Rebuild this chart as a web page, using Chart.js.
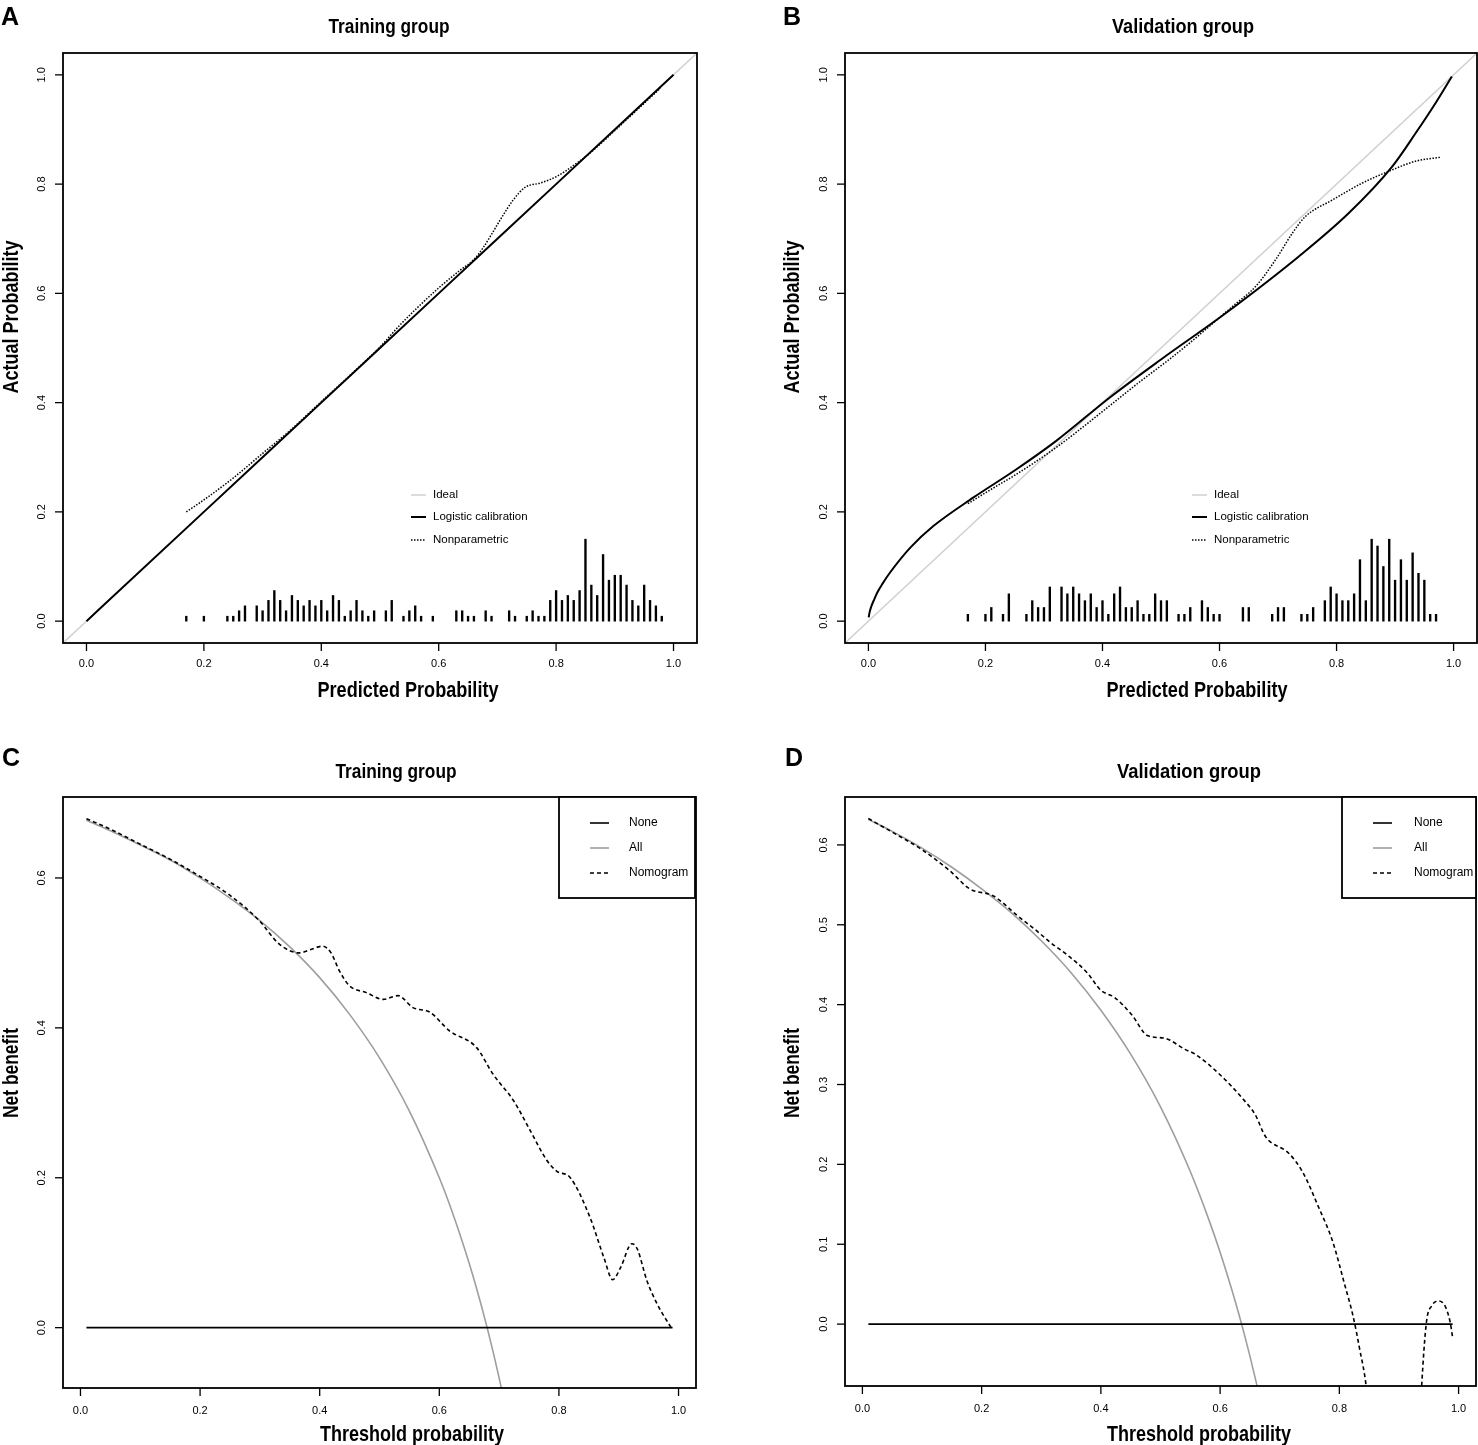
<!DOCTYPE html>
<html><head><meta charset="utf-8">
<script src="https://cdn.jsdelivr.net/npm/chart.js@4.4.1/dist/chart.umd.min.js"></script>
<style>
html,body{margin:0;padding:0;background:#fff;}
body{width:1478px;height:1445px;position:relative;overflow:hidden;}
canvas{position:absolute;display:block;}
</style></head><body>
<canvas id="cA" width="739" height="722" style="left:0;top:0"></canvas>
<canvas id="cB" width="739" height="722" style="left:739px;top:0"></canvas>
<canvas id="cC" width="739" height="723" style="left:0;top:722px"></canvas>
<canvas id="cD" width="739" height="723" style="left:739px;top:722px"></canvas>
<script>
// ---------------- DATA ----------------
const calTicks = [0, 0.2, 0.4, 0.6, 0.8, 1.0];
const calTickLabels = ['0.0', '0.2', '0.4', '0.6', '0.8', '1.0'];
const idealLine = [-0.04, 1.04];

// Panel A - training calibration
const trainLogisticX = [0, 0.2, 0.4, 0.6, 0.8, 1.0];
const trainLogisticY = [0, 0.2, 0.4, 0.6, 0.8, 1.0];
const trainNonparX = [0.17,0.2,0.25,0.3,0.35,0.4,0.45,0.5,0.534,0.56,0.6,0.636,0.66,0.676,0.69,0.705,0.727,0.747,0.773,0.801,0.836,0.858,0.904,0.944,0.978];
const trainNonparY = [0.2,0.222,0.262,0.307,0.352,0.402,0.451,0.502,0.542,0.57,0.61,0.642,0.662,0.684,0.708,0.735,0.771,0.794,0.802,0.814,0.839,0.857,0.902,0.942,0.976];
const trainSpikeX = [0.17,0.20,0.24,0.25,0.26,0.27,0.29,0.30,0.31,0.32,0.33,0.34,0.35,0.36,0.37,0.38,0.39,0.40,0.41,0.42,0.43,0.44,0.45,0.46,0.47,0.48,0.49,0.51,0.52,0.54,0.55,0.56,0.57,0.59,0.63,0.64,0.65,0.66,0.68,0.69,0.72,0.73,0.75,0.76,0.77,0.78,0.79,0.80,0.81,0.82,0.83,0.84,0.85,0.86,0.87,0.88,0.89,0.90,0.91,0.92,0.93,0.94,0.95,0.96,0.97,0.98];
const trainSpikeH = [0.009,0.009,0.009,0.009,0.019,0.028,0.028,0.019,0.038,0.056,0.038,0.019,0.047,0.038,0.028,0.038,0.028,0.038,0.019,0.047,0.038,0.009,0.019,0.038,0.019,0.009,0.019,0.019,0.038,0.009,0.019,0.028,0.009,0.009,0.019,0.019,0.009,0.009,0.019,0.009,0.019,0.009,0.009,0.019,0.009,0.009,0.038,0.056,0.038,0.047,0.038,0.056,0.15,0.066,0.047,0.122,0.075,0.084,0.084,0.066,0.038,0.028,0.066,0.038,0.028,0.009];

// Panel B - validation calibration
const valLogisticX = [0.0005,0.002,0.005,0.01,0.015,0.025,0.037,0.072,0.111,0.179,0.253,0.321,0.412,0.5,0.611,0.736,0.821,0.895,0.935,0.969,0.997];
const valLogisticY = [0.007,0.016,0.027,0.040,0.052,0.070,0.089,0.135,0.174,0.226,0.278,0.330,0.409,0.479,0.564,0.668,0.747,0.832,0.893,0.948,0.997];
const valNonparX = [0.17,0.2,0.253,0.321,0.412,0.46,0.514,0.55,0.583,0.622,0.662,0.696,0.725,0.747,0.793,0.844,0.895,0.935,0.977];
const valNonparY = [0.215,0.235,0.269,0.318,0.394,0.435,0.479,0.51,0.54,0.576,0.613,0.662,0.711,0.741,0.771,0.802,0.826,0.842,0.849];
const valSpikeX = [0.17,0.20,0.21,0.23,0.24,0.27,0.28,0.29,0.30,0.31,0.33,0.34,0.35,0.36,0.37,0.38,0.39,0.40,0.41,0.42,0.43,0.44,0.45,0.46,0.47,0.48,0.49,0.50,0.51,0.53,0.54,0.55,0.57,0.58,0.59,0.60,0.64,0.65,0.69,0.70,0.71,0.74,0.75,0.76,0.78,0.79,0.80,0.81,0.82,0.83,0.84,0.85,0.86,0.87,0.88,0.89,0.90,0.91,0.92,0.93,0.94,0.95,0.96,0.97];
const valSpikeH = [0.0125,0.0125,0.025,0.0125,0.05,0.0125,0.0375,0.025,0.025,0.0625,0.0625,0.05,0.0625,0.05,0.0375,0.05,0.025,0.0375,0.0125,0.05,0.0625,0.025,0.025,0.0375,0.0125,0.0125,0.05,0.0375,0.0375,0.0125,0.0125,0.025,0.0375,0.025,0.0125,0.0125,0.025,0.025,0.0125,0.025,0.025,0.0125,0.0125,0.025,0.0375,0.0625,0.05,0.0375,0.0375,0.05,0.1125,0.0375,0.15,0.1375,0.1,0.15,0.075,0.1125,0.075,0.125,0.0875,0.075,0.0125,0.0125];

// Panel C - training decision curve
const dcaXTicks = [0, 0.2, 0.4, 0.6, 0.8, 1.0];
const dcaXTickLabels = ['0.0', '0.2', '0.4', '0.6', '0.8', '1.0'];
const trainNBTicks = [0, 0.2, 0.4, 0.6];
const trainNBTickLabels = ['0.0', '0.2', '0.4', '0.6'];
const noneX = [0.01, 0.99];
const noneY = [0, 0];
const trainAllX = [0.01,0.05,0.1,0.15,0.2,0.25,0.3,0.35,0.4,0.45,0.5,0.55,0.6,0.62,0.64,0.66,0.68,0.7,0.72];
const trainAllY = [0.677,0.663,0.644,0.624,0.600,0.573,0.543,0.508,0.467,0.418,0.360,0.289,0.200,0.158,0.111,0.059,0.000,-0.067,-0.143];
const trainNomoX = [0.01,0.05,0.1,0.15,0.198,0.248,0.299,0.332,0.366,0.383,0.405,0.419,0.433,0.45,0.478,0.506,0.531,0.556,0.584,0.617,0.662,0.69,0.724,0.752,0.78,0.796,0.819,0.852,0.875,0.89,0.903,0.922,0.931,0.947,0.964,0.989];
const trainNomoY = [0.679,0.665,0.645,0.625,0.603,0.578,0.543,0.512,0.500,0.504,0.509,0.500,0.476,0.456,0.447,0.438,0.443,0.427,0.421,0.396,0.374,0.338,0.303,0.263,0.223,0.209,0.200,0.147,0.094,0.064,0.080,0.112,0.105,0.063,0.032,-0.002];

// Panel D - validation decision curve
const valNBTicks = [0, 0.1, 0.2, 0.3, 0.4, 0.5, 0.6];
const valNBTickLabels = ['0.0', '0.1', '0.2', '0.3', '0.4', '0.5', '0.6'];
const valAllX = [0.01,0.05,0.1,0.15,0.2,0.25,0.3,0.35,0.4,0.45,0.5,0.55,0.58,0.6,0.62,0.64,0.66,0.68];
const valAllY = [0.632,0.617,0.596,0.572,0.545,0.515,0.480,0.440,0.393,0.338,0.272,0.191,0.133,0.090,0.042,-0.011,-0.071,-0.138];
const valNomoX = [0.01,0.05,0.1,0.146,0.18,0.22,0.259,0.293,0.315,0.344,0.377,0.4,0.423,0.451,0.479,0.507,0.541,0.558,0.603,0.637,0.659,0.676,0.715,0.738,0.766,0.789,0.808,0.823,0.834,0.845,0.86,0.9,0.93,0.938,0.946,0.955,0.966,0.977,0.986,0.99];
const valNomoY = [0.633,0.616,0.594,0.568,0.545,0.536,0.512,0.492,0.478,0.462,0.440,0.418,0.409,0.388,0.361,0.358,0.344,0.338,0.310,0.283,0.262,0.235,0.214,0.191,0.145,0.103,0.052,0.010,-0.031,-0.078,-0.2,-0.35,-0.2,-0.078,0.002,0.023,0.029,0.023,0.002,-0.017];

// ---------------- RENDERING ----------------
const SANS = '"Liberation Sans", Arial, Helvetica, sans-serif';
const NARROW = '"Liberation Sans Narrow", "Arial Narrow", "Liberation Sans", Arial, sans-serif';
const IDEAL_GRAY = '#d0d0d0';
const ALL_GRAY = '#9e9e9e';

function pts(xs, ys) { return xs.map((x, i) => ({x: x, y: ys[i]})); }

function fitText(ctx, text, x, y, font, targetW, rotate) {
  ctx.save();
  ctx.font = font;
  const w = ctx.measureText(text).width;
  const s = targetW ? targetW / w : 1;
  ctx.translate(x, y);
  if (rotate) ctx.rotate(-Math.PI / 2);
  ctx.scale(s, 1);
  ctx.textAlign = 'center';
  ctx.textBaseline = rotate ? 'middle' : 'alphabetic';
  ctx.fillStyle = '#000';
  ctx.fillText(text, 0, 0);
  ctx.restore();
}

function segment(ctx, x1, y1, x2, y2, color, width, dash) {
  ctx.save();
  ctx.beginPath();
  ctx.strokeStyle = color; ctx.lineWidth = width; ctx.setLineDash(dash || []);
  ctx.moveTo(x1, y1); ctx.lineTo(x2, y2); ctx.stroke();
  ctx.restore();
}

function framePlugin(L) {
  return {
    id: 'rframe',
    afterDatasetsDraw(chart) {
      const ctx = chart.ctx, a = chart.chartArea, xs = chart.scales.x, ys = chart.scales.y;
      ctx.save();
      ctx.lineWidth = 1.8; ctx.strokeStyle = '#000'; ctx.setLineDash([]);
      ctx.strokeRect(a.left, a.top, a.right - a.left, a.bottom - a.top);
      ctx.font = '11px ' + SANS; ctx.fillStyle = '#000';
      L.xTicks.forEach((v, i) => {
        const px = xs.getPixelForValue(v);
        segment(ctx, px, a.bottom, px, a.bottom + 8, '#000', 1.3);
        ctx.textAlign = 'center'; ctx.textBaseline = 'middle';
        ctx.fillText(L.xLabels[i], px, a.bottom + L.xLabOff);
      });
      L.yTicks.forEach((v, i) => {
        const py = ys.getPixelForValue(v);
        segment(ctx, a.left - 8, py, a.left, py, '#000', 1.3);
        ctx.save(); ctx.translate(a.left - 21, py); ctx.rotate(-Math.PI / 2);
        ctx.textAlign = 'center'; ctx.textBaseline = 'middle';
        ctx.fillText(L.yLabels[i], 0, 0); ctx.restore();
      });
      ctx.restore();
    },
    afterDraw(chart) {
      const ctx = chart.ctx;
      ctx.save();
      ctx.translate(-L.ox, -L.oy);
      ctx.font = 'bold 25px ' + SANS; ctx.fillStyle = '#000'; ctx.textAlign = 'left'; ctx.textBaseline = 'alphabetic';
      ctx.fillText(L.letter, L.letterX, L.letterY);
      fitText(ctx, L.title, L.titleX, L.titleY, 'bold 21px ' + NARROW, L.titleW, false);
      fitText(ctx, L.xTitle, L.xTitleX, L.xTitleY, 'bold 22px ' + NARROW, L.xTitleW, false);
      fitText(ctx, L.yTitle, L.yTitleX, L.yTitleY, 'bold 22px ' + NARROW, L.yTitleW, true);
      const lg = L.legend;
      if (lg.box) {
        ctx.save(); ctx.fillStyle = '#fff'; ctx.fillRect(lg.box[0], lg.box[1], lg.box[2] - lg.box[0], lg.box[3] - lg.box[1]);
        ctx.lineWidth = 1.8; ctx.strokeStyle = '#000'; ctx.strokeRect(lg.box[0], lg.box[1], lg.box[2] - lg.box[0], lg.box[3] - lg.box[1]);
        ctx.restore();
      }
      lg.items.forEach((it, i) => {
        const y = lg.rows[i];
        segment(ctx, lg.segX[0], y, lg.segX[1], y, it.color, it.width, it.dash);
        ctx.font = lg.font; ctx.fillStyle = '#000'; ctx.textAlign = 'left'; ctx.textBaseline = 'middle';
        ctx.fillText(it.label, lg.textX, y);
      });
      ctx.restore();
    }
  };
}

const calLegendItems = [
  {label: 'Ideal', color: IDEAL_GRAY, width: 1.5, dash: []},
  {label: 'Logistic calibration', color: '#000', width: 2, dash: []},
  {label: 'Nonparametric', color: '#000', width: 1.5, dash: [1.5, 1.5]}
];
const dcaLegendItems = [
  {label: 'None', color: '#000', width: 1.6, dash: []},
  {label: 'All', color: ALL_GRAY, width: 1.6, dash: []},
  {label: 'Nomogram', color: '#000', width: 1.6, dash: [4, 3]}
];

function calDatasets(logX, logY, npX, npY, spX, spH) {
  return [
    {type: 'line', data: pts(logX, logY), borderColor: '#000', borderWidth: 2, pointRadius: 0, cubicInterpolationMode: 'monotone', order: 1},
    {type: 'line', data: pts(npX, npY), borderColor: '#000', borderWidth: 1.5, borderDash: [1.5, 1.5], pointRadius: 0, cubicInterpolationMode: 'monotone', order: 2},
    {type: 'bar', data: pts(spX, spH), backgroundColor: '#000', borderWidth: 0, barThickness: 1.7, grouped: false, order: 3},
    {type: 'line', data: pts(idealLine, idealLine), borderColor: IDEAL_GRAY, borderWidth: 1.5, pointRadius: 0, order: 4}
  ];
}
function dcaDatasets(allX, allY, nomoX, nomoY) {
  return [
    {type: 'line', data: pts(nomoX, nomoY), borderColor: '#000', borderWidth: 1.6, borderDash: [4, 3], pointRadius: 0, cubicInterpolationMode: 'monotone', order: 1},
    {type: 'line', data: pts(noneX, noneY), borderColor: '#000', borderWidth: 1.6, pointRadius: 0, order: 2},
    {type: 'line', data: pts(allX, allY), borderColor: ALL_GRAY, borderWidth: 1.6, pointRadius: 0, cubicInterpolationMode: 'monotone', order: 3}
  ];
}

function makeChart(id, datasets, pad, xr, yr, L) {
  return new Chart(document.getElementById(id), {
    type: 'line',
    data: {datasets: datasets},
    options: {
      responsive: false, animation: false, events: [],
      layout: {padding: pad, autoPadding: false},
      plugins: {legend: {display: false}, tooltip: {enabled: false}, title: {display: false}},
      scales: {
        x: {type: 'linear', display: false, min: xr[0], max: xr[1], offset: false},
        y: {type: 'linear', display: false, min: yr[0], max: yr[1]}
      }
    },
    plugins: [framePlugin(L)]
  });
}

makeChart('cA', calDatasets(trainLogisticX, trainLogisticY, trainNonparX, trainNonparY, trainSpikeX, trainSpikeH),
  {left: 63, top: 53, right: 42, bottom: 79}, [-0.04, 1.04], [-0.04, 1.04], {
    ox: 0, oy: 0, xTicks: calTicks, xLabels: calTickLabels, yTicks: calTicks, yLabels: calTickLabels, xLabOff: 21,
    letter: 'A', letterX: 1, letterY: 25,
    title: 'Training group', titleX: 389, titleY: 33, titleW: 121,
    xTitle: 'Predicted Probability', xTitleX: 408, xTitleY: 697, xTitleW: 181,
    yTitle: 'Actual Probability', yTitleX: 12, yTitleY: 317, yTitleW: 153,
    legend: {items: calLegendItems, rows: [495, 517, 540], segX: [411, 426], textX: 433, font: '11.5px ' + SANS}
  });

makeChart('cB', calDatasets(valLogisticX, valLogisticY, valNonparX, valNonparY, valSpikeX, valSpikeH),
  {left: 106, top: 53, right: 1, bottom: 79}, [-0.04, 1.04], [-0.04, 1.04], {
    ox: 739, oy: 0, xTicks: calTicks, xLabels: calTickLabels, yTicks: calTicks, yLabels: calTickLabels, xLabOff: 21,
    letter: 'B', letterX: 783, letterY: 25,
    title: 'Validation group', titleX: 1183, titleY: 33, titleW: 142,
    xTitle: 'Predicted Probability', xTitleX: 1197, xTitleY: 697, xTitleW: 181,
    yTitle: 'Actual Probability', yTitleX: 793, yTitleY: 317, yTitleW: 153,
    legend: {items: calLegendItems, rows: [495, 517, 540], segX: [1192, 1207], textX: 1214, font: '11.5px ' + SANS}
  });

makeChart('cC', dcaDatasets(trainAllX, trainAllY, trainNomoX, trainNomoY),
  {left: 63, top: 75, right: 43, bottom: 57}, [-0.0292, 1.0292], [-0.0805, 0.708], {
    ox: 0, oy: 722, xTicks: dcaXTicks, xLabels: dcaXTickLabels, yTicks: trainNBTicks, yLabels: trainNBTickLabels, xLabOff: 23,
    letter: 'C', letterX: 2, letterY: 766,
    title: 'Training group', titleX: 396, titleY: 778, titleW: 121,
    xTitle: 'Threshold probability', xTitleX: 412, xTitleY: 1441, xTitleW: 184,
    yTitle: 'Net benefit', yTitleX: 12, yTitleY: 1073, yTitleW: 90,
    legend: {box: [559, 797, 695, 898], items: dcaLegendItems, rows: [823, 848, 873], segX: [590, 609], textX: 629, font: '12px ' + SANS}
  });

makeChart('cD', dcaDatasets(valAllX, valAllY, valNomoX, valNomoY),
  {left: 106, top: 75, right: 2, bottom: 59}, [-0.0292, 1.0292], [-0.0775, 0.66], {
    ox: 739, oy: 722, xTicks: dcaXTicks, xLabels: dcaXTickLabels, yTicks: valNBTicks, yLabels: valNBTickLabels, xLabOff: 23,
    letter: 'D', letterX: 785, letterY: 766,
    title: 'Validation group', titleX: 1189, titleY: 778, titleW: 144,
    xTitle: 'Threshold probability', xTitleX: 1199, xTitleY: 1441, xTitleW: 184,
    yTitle: 'Net benefit', yTitleX: 793, yTitleY: 1073, yTitleW: 90,
    legend: {box: [1342, 797, 1476, 898], items: dcaLegendItems, rows: [823, 848, 873], segX: [1373, 1392], textX: 1414, font: '12px ' + SANS}
  });
</script>
</body></html>
